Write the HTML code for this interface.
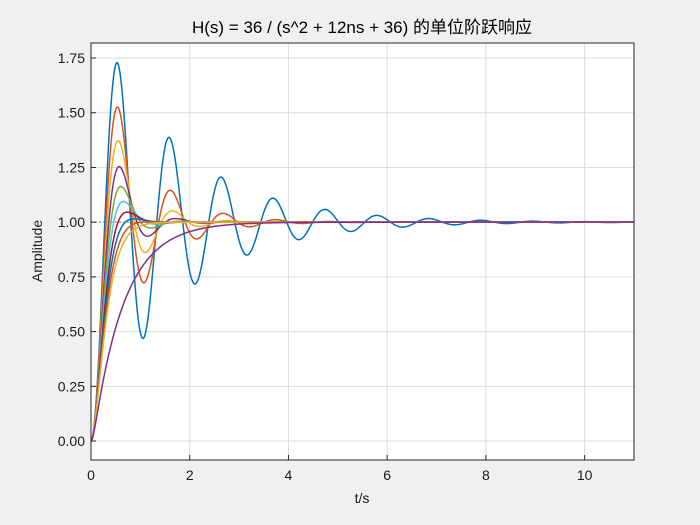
<!DOCTYPE html>
<html>
<head>
<meta charset="utf-8">
<style>
html,body{margin:0;padding:0;background:#f0f0f0;}
svg{display:block;font-family:"Liberation Sans","Noto Sans CJK SC",sans-serif;}
</style>
</head>
<body>
<svg id="chart" width="700" height="525" viewBox="0 0 700 525">
  <rect x="0" y="0" width="700" height="525" fill="#f0f0f0"/>
  <rect x="91" y="43" width="543" height="417" fill="#ffffff"/>
  <g id="grid"></g>
  <g id="series"></g>
  <rect x="91" y="43" width="543" height="417" fill="none" stroke="#262626" stroke-width="1"/>
  <g id="ticks"></g>
  <text x="362" y="33" text-anchor="middle" font-size="17" fill="#000">H(s) = 36 / (s^2 + 12ns + 36) 的单位阶跃响应</text>
  <text x="362" y="503" text-anchor="middle" font-size="14" fill="#1a1a1a">t/s</text>
  <text x="42" y="251" text-anchor="middle" font-size="14" fill="#1a1a1a" transform="rotate(-90 42 251)">Amplitude</text>
</svg>
<script>
const dampingRatios = [0.1,0.2,0.3,0.4,0.5,0.6,0.7,0.8,0.9,1.0,2.0];
const naturalFreq = [6];
const xTicks = [0,2,4,6,8,10];
const yTicks = [0,0.25,0.5,0.75,1,1.25,1.5,1.75];
const yTickLabels = ["0.00","0.25","0.50","0.75","1.00","1.25","1.50","1.75"];
const xDomain = [0,11];
const yDomain = [-0.0866,1.8186];

const L=91,R=634,T=43,B=460;
const xs=v=>L+(v-xDomain[0])/(xDomain[1]-xDomain[0])*(R-L);
const ys=v=>B-(v-yDomain[0])/(yDomain[1]-yDomain[0])*(B-T);
const NS="http://www.w3.org/2000/svg";
const colors=["#0072BD","#D95319","#EDB120","#7E2F8E","#77AC30","#4DBEEE","#A2142F"];
const grid=document.getElementById('grid'), ticks=document.getElementById('ticks'), ser=document.getElementById('series');
function mk(tag,attrs,parent){const e=document.createElementNS(NS,tag);for(const k in attrs)e.setAttribute(k,attrs[k]);parent.appendChild(e);return e;}

xTicks.forEach((v,i)=>{
  const x=xs(v);
  const g=mk('line',{x1:x,x2:x,y1:T,y2:B,stroke:'#dcdcdc','stroke-width':1},grid);
  
  
  const tk=mk('line',{x1:x,x2:x,y1:B,y2:B-5,stroke:'#262626'},ticks);
  
  
  const t=mk('text',{x:x,y:B+20,'text-anchor':'middle','font-size':14,fill:'#1a1a1a'},ticks);
  t.textContent=String(v);
  
  
});
yTicks.forEach((v,i)=>{
  const y=ys(v);
  const g=mk('line',{x1:L,x2:R,y1:y,y2:y,stroke:'#dcdcdc','stroke-width':1},grid);
  
  
  const tk=mk('line',{x1:L,x2:L+5,y1:y,y2:y,stroke:'#262626'},ticks);
  
  
  const t=mk('text',{x:L-6,y:y+5,'text-anchor':'end','font-size':14,fill:'#1a1a1a'},ticks);
  t.textContent=yTickLabels[i];
  
  
});

function step(z,w,t){
  if(z<1){const wd=w*Math.sqrt(1-z*z);return 1-Math.exp(-z*w*t)/Math.sqrt(1-z*z)*Math.sin(wd*t+Math.acos(z));}
  if(z===1)return 1-(1+w*t)*Math.exp(-w*t);
  const r=Math.sqrt(z*z-1),p1=-w*(z-r),p2=-w*(z+r);
  return 1+(p2*Math.exp(p1*t)-p1*Math.exp(p2*t))/(p1-p2);
}
const ss=mk('line',{x1:L,x2:R,y1:ys(1),y2:ys(1),stroke:'#888','stroke-dasharray':'2,2'},ser);


dampingRatios.forEach((z,i)=>{
  let d='';
  for(let k=0;k<=550;k++){const t=k*0.02;d+=(k?'L':'M')+xs(t).toFixed(2)+' '+ys(step(z,naturalFreq[0],t)).toFixed(2);}
  const p=mk('path',{d:d,fill:'none',stroke:colors[i%7],'stroke-width':1.5},ser);
  
  
});
</script>
</body>
</html>
